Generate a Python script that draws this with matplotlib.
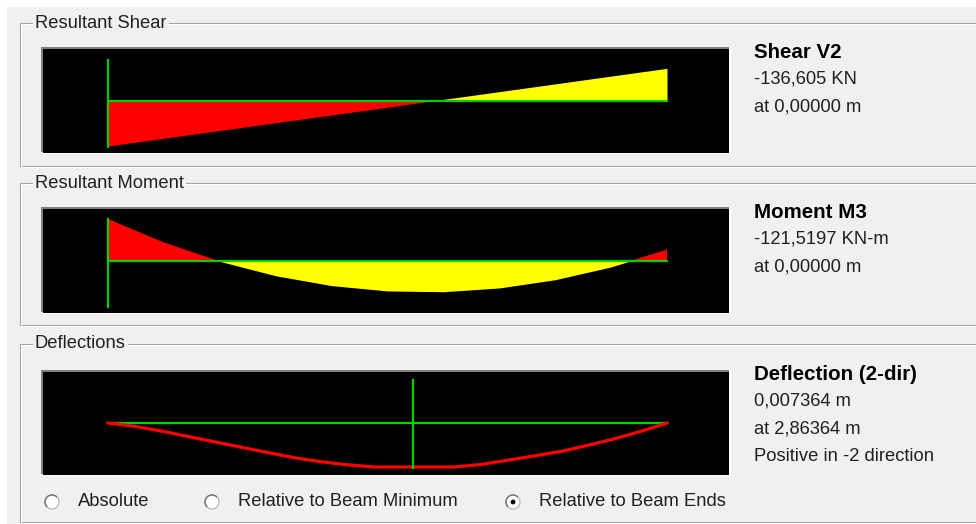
import numpy as np
import matplotlib.pyplot as plt
from matplotlib.patches import Rectangle, Circle, Arc

# beam stations (m) and results
stations = [0.0, 0.525, 1.05, 1.575, 2.1, 2.625, 3.15, 3.675, 4.2, 4.725, 5.25]
shear_v2 = [-136.6, -113.0, -89.4, -65.9, -42.3, -18.7, 4.9, 28.4, 52.0, 75.6, 99.2]
moment_m3 = [-121.5, -53.7, 1.1, 42.7, 71.2, 86.6, 88.9, 78.0, 54.1, 17.1, -33.0]

defl_stations = [0.0, 0.25, 0.5, 0.75, 1.0, 1.25, 1.5, 1.75, 2.0, 2.25, 2.5,
                 2.75, 3.0, 3.25, 3.5, 3.75, 4.0, 4.25, 4.5, 4.75, 5.0, 5.25]
deflection_mm = [0.0, 0.55, 1.34, 2.26, 3.15, 4.05, 4.94, 5.81, 6.48, 7.0, 7.36,
                 7.36, 7.36, 7.36, 6.95, 6.24, 5.52, 4.77, 3.77, 2.68, 1.42, 0.0]
max_defl_at = 2.86364

group_titles = ["Resultant Shear", "Resultant Moment", "Deflections"]
info_titles = ["Shear V2", "Moment M3", "Deflection (2-dir)"]
info_lines = [["-136,605 KN", "at 0,00000 m"],
              ["-121,5197 KN-m", "at 0,00000 m"],
              ["0,007364 m", "at 2,86364 m", "Positive in -2 direction"]]
radio_labels = ["Absolute", "Relative to Beam Minimum", "Relative to Beam Ends"]
radio_selected = 2

FIG_W, FIG_H = 976, 524
GRAY = "#f0f0f0"
GREEN = "#00d000"
FONT = "Liberation Sans"
FS = 13.2

BEAM_PX0, BEAM_PX1 = 108, 667


def px_axes(fig, x0, y0, x1, y1, **kw):
    return fig.add_axes([x0 / FIG_W, 1 - y1 / FIG_H, (x1 - x0) / FIG_W, (y1 - y0) / FIG_H], **kw)


fig = plt.figure(figsize=(FIG_W / 100, FIG_H / 100), dpi=100, facecolor="white")

# background layer in pixel coordinates
bg = px_axes(fig, 0, 0, FIG_W, FIG_H)
bg.set_xlim(0, FIG_W)
bg.set_ylim(FIG_H, 0)
bg.axis("off")
bg.add_patch(Rectangle((7, 7), FIG_W, FIG_H, facecolor=GRAY, edgecolor="none"))

# group boxes: (top, bottom)
boxes = [(23, 166), (183, 325), (344, 522)]
for (top, bottom), title in zip(boxes, group_titles):
    for off, col in [(0, "#a0a0a0"), (1, "white")]:
        bg.plot([20 + off, FIG_W], [top + off, top + off], color=col, lw=0.8)
        bg.plot([20 + off, 20 + off], [top + off, bottom + off], color=col, lw=0.8)
        bg.plot([20 + off, FIG_W], [bottom + off, bottom + off], color=col, lw=0.8)
    bg.text(35, top, title, fontsize=FS, family=FONT, va="center", ha="left",
            color="#202020", bbox=dict(facecolor=GRAY, edgecolor="none", pad=1.5))

# black plot panels: (top, bottom) in pixels
panels = [(47, 153), (207, 313), (370, 475)]
axes = []
for top, bottom in panels:
    bg.add_patch(Rectangle((41, top), 690, bottom - top + 1, facecolor="#fcfcfc", edgecolor="none"))
    bg.add_patch(Rectangle((41, top), 688, bottom - top - 1, facecolor="#808080", edgecolor="none"))
    ax = px_axes(fig, 43, top + 2, 729, bottom)
    ax.set_facecolor("black")
    ax.set_xticks([])
    ax.set_yticks([])
    for s in ax.spines.values():
        s.set_visible(False)
    axes.append(ax)

L = stations[-1]
xs = (BEAM_PX1 - BEAM_PX0) / L


def setup(ax, top, bottom, axis_px, ys):
    ax.set_xlim((43 - BEAM_PX0) / xs, (729 - BEAM_PX0) / xs)
    ax.set_ylim((axis_px - bottom) / ys, (axis_px - (top + 2)) / ys)


def ypx(axis_px, ys, py):
    return (axis_px - py) / ys


# shear
ax = axes[0]
axis_px, ys = 101, 45 / 136.6
setup(ax, *panels[0], axis_px, ys)
x = np.array(stations)
v = np.array(shear_v2)
ax.fill_between(x, v, 0, where=v <= 0, color="red", interpolate=True, lw=0)
ax.fill_between(x, v, 0, where=v >= 0, color="yellow", interpolate=True, lw=0)
ax.plot([0, L], [0, 0], color=GREEN, lw=1.6)
ax.plot([0, 0], [ypx(axis_px, ys, 60), ypx(axis_px, ys, 147)], color=GREEN, lw=1.6)

# moment (negative drawn upward)
ax = axes[1]
axis_px, ys = 261, 42 / 121.5
setup(ax, *panels[1], axis_px, ys)
m = -np.array(moment_m3)
ax.fill_between(x, m, 0, where=m >= 0, color="red", interpolate=True, lw=0)
ax.fill_between(x, m, 0, where=m <= 0, color="yellow", interpolate=True, lw=0)
ax.plot([0, L], [0, 0], color=GREEN, lw=1.6)
ax.plot([0, 0], [ypx(axis_px, ys, 219), ypx(axis_px, ys, 307)], color=GREEN, lw=1.6)

# deflection
ax = axes[2]
axis_px, ys = 423, 44 / 7.364
setup(ax, *panels[2], axis_px, ys)
ax.plot([0, L], [0, 0], color=GREEN, lw=1.6)
ax.plot(defl_stations, -np.array(deflection_mm), color="red", lw=2.3, solid_joinstyle="miter")
ax.plot([max_defl_at, max_defl_at], [ypx(axis_px, ys, 380), ypx(axis_px, ys, 468)], color=GREEN, lw=1.6)

# result text on the right
title_y = [52, 212, 374]
for ty, title, lines in zip(title_y, info_titles, info_lines):
    bg.text(754, ty, title, fontsize=14.8, family=FONT, weight="bold", va="center", ha="left", color="black")
    for i, line in enumerate(lines):
        bg.text(754, ty + 27.5 * (i + 1), line, fontsize=FS, family=FONT, va="center", ha="left", color="#202020")

# radio buttons
radio_x = [52, 212, 513]
for i, (rx, label) in enumerate(zip(radio_x, radio_labels)):
    ry = 502
    bg.add_patch(Circle((rx, ry), 7, facecolor="white", edgecolor="#b0b0b0", lw=0.8))
    bg.add_patch(Arc((rx, ry), 14, 14, theta1=135, theta2=315, color="#707070", lw=1.0))
    if i == radio_selected:
        bg.add_patch(Circle((rx, ry), 2.4, facecolor="black", edgecolor="none"))
    bg.text(rx + 26, ry, label, fontsize=FS, family=FONT, va="center", ha="left", color="#202020")

fig.savefig("out.png", dpi=100, facecolor=fig.get_facecolor())
